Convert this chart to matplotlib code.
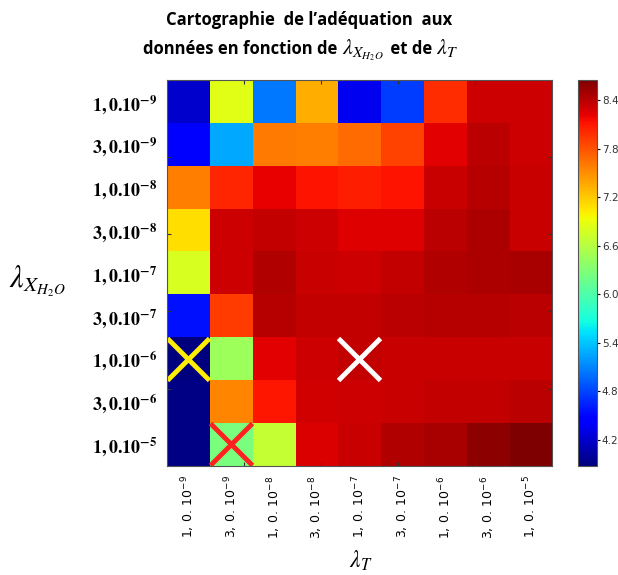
import numpy as np
import matplotlib.pyplot as plt

plt.rcParams['mathtext.fontset'] = 'stix'

# regularisation parameters (rows: lambda_XH2O, columns: lambda_T)
lam_labels = ["1,0.10^{-9}", "3,0.10^{-9}", "1,0.10^{-8}", "3,0.10^{-8}", "1,0.10^{-7}",
              "3,0.10^{-7}", "1,0.10^{-6}", "3,0.10^{-6}", "1,0.10^{-5}"]

row_1e9 = [4.20, 6.85, 5.04, 7.33, 4.36, 4.76, 7.98, 8.32, 8.32]
row_3e9 = [4.42, 5.27, 7.59, 7.58, 7.67, 7.87, 8.23, 8.39, 8.33]
row_1e8 = [7.58, 8.02, 8.21, 8.12, 8.07, 8.12, 8.35, 8.41, 8.35]
row_3e8 = [7.09, 8.32, 8.37, 8.33, 8.25, 8.25, 8.39, 8.45, 8.35]
row_1e7 = [6.79, 8.33, 8.43, 8.35, 8.32, 8.37, 8.43, 8.45, 8.47]
row_3e7 = [4.56, 7.92, 8.41, 8.37, 8.37, 8.39, 8.41, 8.41, 8.39]
row_1e6 = [3.89, 6.46, 8.23, 8.33, 8.37, 8.35, 8.35, 8.35, 8.35]
row_3e6 = [3.90, 7.54, 8.10, 8.30, 8.33, 8.35, 8.37, 8.37, 8.39]
row_1e5 = [3.90, 6.26, 6.68, 8.27, 8.35, 8.43, 8.48, 8.58, 8.64]

# marked cells
marks_row = [6, 6, 8]
marks_col = [0, 4, 1]
marks_color = ["#ffee00", "white", "#ff2020"]

data = np.array([row_1e9, row_3e9, row_1e8, row_3e8, row_1e7,
                 row_3e7, row_1e6, row_3e6, row_1e5])
n = len(lam_labels)

fig = plt.figure(figsize=(6.18, 5.75), dpi=100)
ax = fig.add_axes([0.270, 0.190, 0.623, 0.671])
cax = fig.add_axes([0.935, 0.190, 0.031, 0.671])

im = ax.imshow(data, cmap='jet', vmin=3.88, vmax=8.65, aspect='auto',
               interpolation='nearest', extent=(-0.5, n - 0.5, n - 0.5, -0.5))

for r, c, col in zip(marks_row, marks_col, marks_color):
    ax.plot(c, r, marker='x', color=col, markersize=30, markeredgewidth=3.5)

# small ticks of the original 0-5 frame, no labels
frame_ticks = [-0.5 + 9 / 5 * k for k in range(1, 5)]
ax.set_xticks(frame_ticks)
ax.set_yticks(frame_ticks)
ax.tick_params(which='major', direction='in', length=3, top=True, right=True,
               labelbottom=False, labelleft=False, color='#333333')

ax.set_xticks(range(n), minor=True)
ax.set_yticks(range(n), minor=True)
ax.set_xticklabels(["$" + s.replace(",", ",\\,").replace(".", ".\\,") + "$" for s in lam_labels],
                   minor=True, rotation=90, fontsize=9, math_fontfamily='dejavusans')
ax.set_yticklabels([r"$\mathbf{" + s + "}$" for s in lam_labels], minor=True, fontsize=13)
ax.tick_params(which='minor', length=0, pad=7)
for sp in ax.spines.values():
    sp.set_color('#555555')

fig.text(0.583, 0.025, r"$\boldsymbol{\lambda_T}$", fontsize=17, ha='center', va='center')
fig.text(0.015, 0.51, r"$\boldsymbol{\lambda_{X_{H_2O}}}$", fontsize=22, ha='left', va='center')

# title, with larger lambdas on the second line
fig.text(0.50, 0.965, "Cartographie  de l’adéquation  aux", ha='center', va='center',
         fontsize=12, fontweight='bold', family='Open Sans')
parts = ["données en fonction de ", r"$\boldsymbol{\lambda_{X_{H_2O}}}$", " et de ",
         r"$\boldsymbol{\lambda_T}$"]
renderer = fig.canvas.get_renderer()
x = 143
for p in parts:
    is_math = p.startswith("$")
    t = fig.text(x / 618, 1 - 54 / 575, p, ha='left', va='baseline',
                 fontsize=16 if is_math else 12, fontweight='bold', family='Open Sans')
    x += t.get_window_extent(renderer).width + (2 if is_math else 0)

cb = fig.colorbar(im, cax=cax, ticks=np.arange(4.2, 8.41, 0.6))
cb.ax.tick_params(labelsize=7.5, length=2, pad=1.5, labelcolor='#333333')
cb.ax.set_yticklabels([f"{t:.1f}" for t in np.arange(4.2, 8.41, 0.6)])
cb.outline.set_edgecolor('#555555')

fig.savefig("out.png", dpi=100)
